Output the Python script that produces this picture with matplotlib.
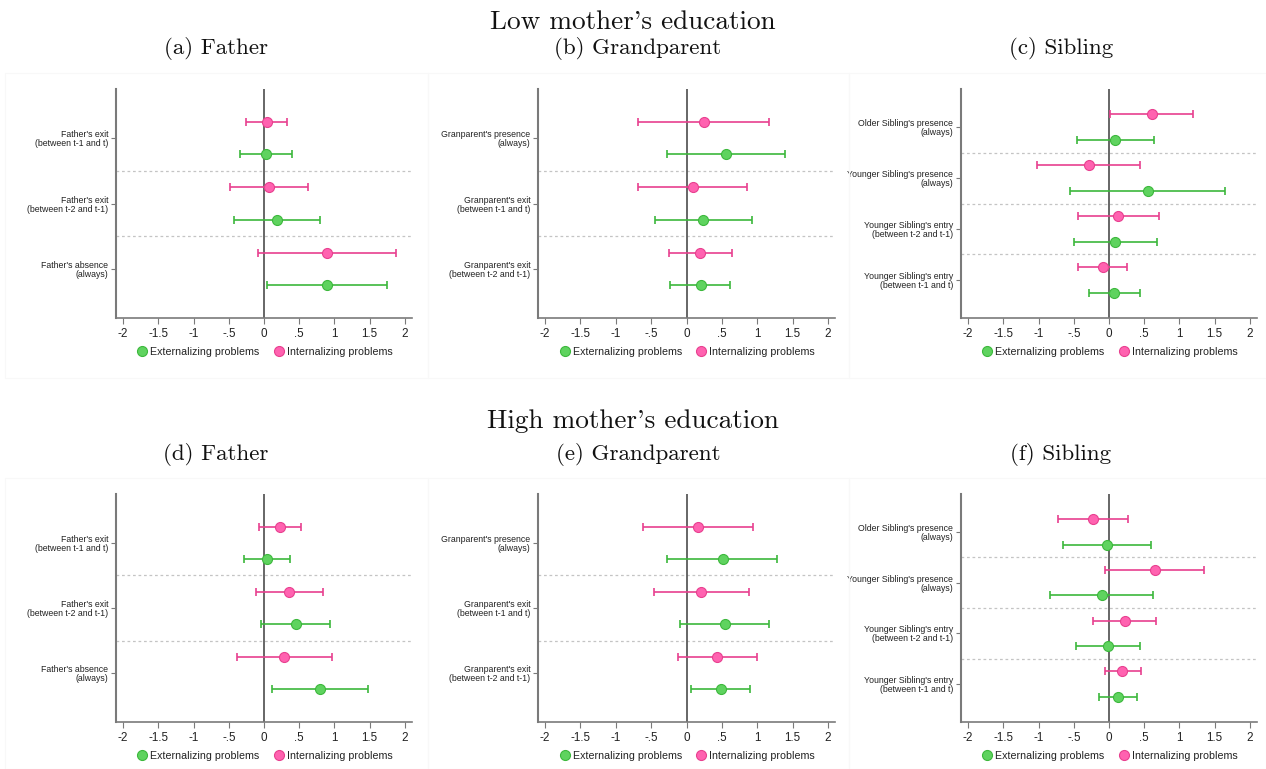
import numpy as np
import matplotlib
matplotlib.use("Agg")
import matplotlib.pyplot as plt
from matplotlib.lines import Line2D
from matplotlib.patches import Rectangle

plt.rcParams["font.family"] = ["Liberation Sans", "DejaVu Sans"]
plt.rcParams["axes.unicode_minus"] = False

# ---------------------------------------------------------------- data
XTICKS = [-2, -1.5, -1, -0.5, 0, 0.5, 1, 1.5, 2]
XTICK_LABELS = ["-2", "-1.5", "-1", "-.5", "0", ".5", "1", "1.5", "2"]
SERIES_NAMES = ["Externalizing problems", "Internalizing problems"]

FATHER_LABELS = ["Father's exit\n(between t-1 and t)",
                 "Father's exit\n(between t-2 and t-1)",
                 "Father's absence\n(always)"]
GRAND_LABELS = ["Granparent's presence\n(always)",
                "Granparent's exit\n(between t-1 and t)",
                "Granparent's exit\n(between t-2 and t-1)"]
SIBLING_LABELS = ["Older Sibling's presence\n(always)",
                  "Younger Sibling's presence\n(always)",
                  "Younger Sibling's entry\n(between t-2 and t-1)",
                  "Younger Sibling's entry\n(between t-1 and t)"]

# Low mother's education: point estimates and 95% intervals
LOW_FATHER_EXT = [0.03, 0.18, 0.90]
LOW_FATHER_EXT_CI = [(-0.34, 0.40), (-0.43, 0.79), (0.04, 1.75)]
LOW_FATHER_INT = [0.04, 0.07, 0.90]
LOW_FATHER_INT_CI = [(-0.26, 0.33), (-0.48, 0.63), (-0.09, 1.87)]

LOW_GRAND_EXT = [0.555, 0.24, 0.20]
LOW_GRAND_EXT_CI = [(-0.28, 1.39), (-0.44, 0.92), (-0.23, 0.62)]
LOW_GRAND_INT = [0.245, 0.085, 0.19]
LOW_GRAND_INT_CI = [(-0.68, 1.17), (-0.685, 0.856), (-0.25, 0.64)]

LOW_SIB_EXT = [0.085, 0.548, 0.09, 0.076]
LOW_SIB_EXT_CI = [(-0.458, 0.633), (-0.557, 1.653), (-0.49, 0.675), (-0.28, 0.434)]
LOW_SIB_INT = [0.605, -0.288, 0.132, -0.09]
LOW_SIB_INT_CI = [(0.019, 1.19), (-1.015, 0.44), (-0.434, 0.704), (-0.44, 0.26)]

# High mother's education
HIGH_FATHER_EXT = [0.04, 0.45, 0.79]
HIGH_FATHER_EXT_CI = [(-0.29, 0.37), (-0.04, 0.93), (0.12, 1.47)]
HIGH_FATHER_INT = [0.22, 0.36, 0.29]
HIGH_FATHER_INT_CI = [(-0.07, 0.52), (-0.11, 0.835), (-0.38, 0.96)]

HIGH_GRAND_EXT = [0.51, 0.54, 0.485]
HIGH_GRAND_EXT_CI = [(-0.27, 1.285), (-0.085, 1.167), (0.066, 0.904)]
HIGH_GRAND_INT = [0.165, 0.207, 0.438]
HIGH_GRAND_INT_CI = [(-0.61, 0.946), (-0.466, 0.88), (-0.118, 0.993)]

HIGH_SIB_EXT = [-0.033, -0.104, -0.019, 0.128]
HIGH_SIB_EXT_CI = [(-0.652, 0.59), (-0.836, 0.628), (-0.472, 0.444), (-0.146, 0.401)]
HIGH_SIB_INT = [-0.231, 0.647, 0.222, 0.189]
HIGH_SIB_INT_CI = [(-0.727, 0.264), (-0.057, 1.35), (-0.222, 0.666), (-0.061, 0.449)]

# ---------------------------------------------------------------- style
GREEN_LINE = "#3cb83c"
GREEN_FACE = "#5fd35f"
PINK_LINE = "#e8408f"
PINK_FACE = "#ff62b0"
AXIS_GRAY = "#7a7a7a"
TEXT = "#222222"

W, H = 1266, 769
fig = plt.figure(figsize=(W / 100, H / 100), dpi=100)


def fx(px):
    return px / W


def fy(py):
    return 1 - py / H


def draw_panel(rect, labels, ext, ext_ci, intr, intr_ci):
    x0, y0, x1, y1 = rect
    ax = fig.add_axes([fx(x0), fy(y1), fx(x1 - x0), (y1 - y0) / H])
    n = len(labels)
    pos = np.arange(1, n + 1)

    for vals, ci, off, lc, fc in [(intr, intr_ci, -0.25, PINK_LINE, PINK_FACE),
                                   (ext, ext_ci, 0.25, GREEN_LINE, GREEN_FACE)]:
        vals = np.asarray(vals, float)
        lo = np.array([c[0] for c in ci])
        hi = np.array([c[1] for c in ci])
        ax.errorbar(vals, pos + off, xerr=[vals - lo, hi - vals], fmt="none",
                    ecolor=lc, elinewidth=1.2, capsize=3.2, capthick=1.2, zorder=3)
        ax.plot(vals, pos + off, "o", ms=7.2, mfc=fc, mec=lc, mew=0.8, zorder=4)

    ax.axvline(0, color="#5a5a5a", lw=1.3, zorder=2)
    for k in range(1, n):
        ax.axhline(k + 0.5, color="#c4c4c4", lw=0.9, ls=(0, (2.2, 2.2)), zorder=1)

    ax.set_xlim(-2.1, 2.1)
    ax.set_ylim(n + 0.75, 0.25)
    ax.set_xticks(XTICKS)
    ax.set_xticklabels(XTICK_LABELS)
    ax.set_yticks(pos)
    ax.set_yticklabels(labels, fontsize=6.3, color=TEXT, linespacing=1.0)

    for s in ["top", "right"]:
        ax.spines[s].set_visible(False)
    ax.spines["left"].set_color(AXIS_GRAY)
    ax.spines["left"].set_linewidth(1.5)
    ax.spines["bottom"].set_color(AXIS_GRAY)
    ax.spines["bottom"].set_linewidth(1.2)
    ax.tick_params(axis="x", length=4, width=0.8, color=AXIS_GRAY,
                   labelsize=8.4, labelcolor=TEXT, pad=3)
    ax.tick_params(axis="y", length=3.5, width=0.8, color=AXIS_GRAY, pad=2)

    handles = [Line2D([], [], marker="o", ls="none", ms=7.2, mfc=GREEN_FACE,
                      mec=GREEN_LINE, mew=0.8),
               Line2D([], [], marker="o", ls="none", ms=7.2, mfc=PINK_FACE,
                      mec=PINK_LINE, mew=0.8)]
    leg = ax.legend(handles, SERIES_NAMES, loc="center", ncol=2,
                    bbox_to_anchor=(0.5, -0.148), frameon=False, fontsize=7.7,
                    handletextpad=0.15, columnspacing=1.2, handlelength=1.2,
                    borderaxespad=0)
    for t in leg.get_texts():
        t.set_color(TEXT)
    return ax


# faint panel frames
for (bx0, by0, bx1, by1) in [(5, 73, 428, 378), (428, 73, 849, 378), (849, 73, 1266, 378),
                             (5, 478, 428, 769), (428, 478, 849, 769), (849, 478, 1266, 769)]:
    fig.patches.append(Rectangle((fx(bx0), fy(by1)), fx(bx1 - bx0), (by1 - by0) / H,
                                 transform=fig.transFigure, fill=False,
                                 edgecolor="#f8f8f8", lw=0.8))

COLS = [(116, 412), (538, 835), (961, 1257)]
ROWS = [(89, 318), (494, 722)]

draw_panel((COLS[0][0], ROWS[0][0], COLS[0][1], ROWS[0][1]), FATHER_LABELS,
           LOW_FATHER_EXT, LOW_FATHER_EXT_CI, LOW_FATHER_INT, LOW_FATHER_INT_CI)
draw_panel((COLS[1][0], ROWS[0][0], COLS[1][1], ROWS[0][1]), GRAND_LABELS,
           LOW_GRAND_EXT, LOW_GRAND_EXT_CI, LOW_GRAND_INT, LOW_GRAND_INT_CI)
draw_panel((COLS[2][0], ROWS[0][0], COLS[2][1], ROWS[0][1]), SIBLING_LABELS,
           LOW_SIB_EXT, LOW_SIB_EXT_CI, LOW_SIB_INT, LOW_SIB_INT_CI)
draw_panel((COLS[0][0], ROWS[1][0], COLS[0][1], ROWS[1][1]), FATHER_LABELS,
           HIGH_FATHER_EXT, HIGH_FATHER_EXT_CI, HIGH_FATHER_INT, HIGH_FATHER_INT_CI)
draw_panel((COLS[1][0], ROWS[1][0], COLS[1][1], ROWS[1][1]), GRAND_LABELS,
           HIGH_GRAND_EXT, HIGH_GRAND_EXT_CI, HIGH_GRAND_INT, HIGH_GRAND_INT_CI)
draw_panel((COLS[2][0], ROWS[1][0], COLS[2][1], ROWS[1][1]), SIBLING_LABELS,
           HIGH_SIB_EXT, HIGH_SIB_EXT_CI, HIGH_SIB_INT, HIGH_SIB_INT_CI)

# titles
SERIF = ["cmr10", "DejaVu Serif"]
fig.text(0.5, fy(22), "Low mother's education", ha="center", va="center",
         family=SERIF, fontsize=19.6, color="#111111")
fig.text(0.5, fy(421), "High mother's education", ha="center", va="center",
         family=SERIF, fontsize=19.6, color="#111111")
for cx, t1, t2 in [(216, "(a) Father", "(d) Father"),
                   (638, "(b) Grandparent", "(e) Grandparent"),
                   (1061, "(c) Sibling", "(f) Sibling")]:
    fig.text(fx(cx), fy(48), t1, ha="center", va="center", family=SERIF,
             fontsize=16.6, color="#111111")
    fig.text(fx(cx), fy(454), t2, ha="center", va="center", family=SERIF,
             fontsize=16.6, color="#111111")

fig.savefig("out.png", dpi=100, facecolor="white")
